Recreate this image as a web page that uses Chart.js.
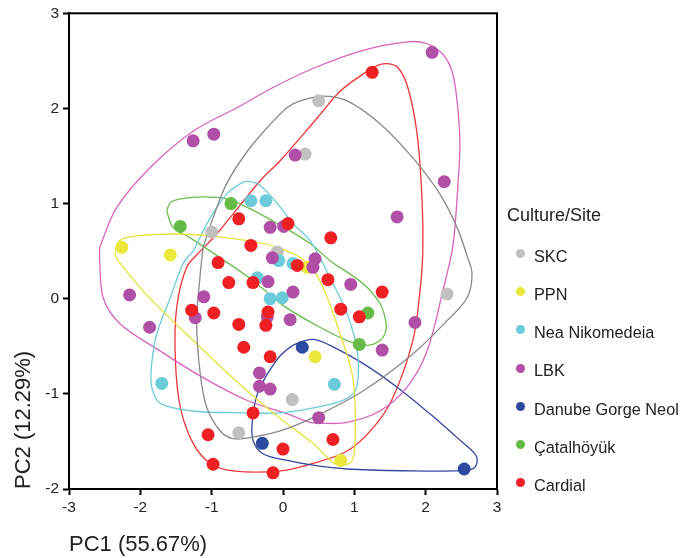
<!DOCTYPE html>
<html>
<head>
<meta charset="utf-8">
<script src="https://cdn.jsdelivr.net/npm/chart.js@4.4.1/dist/chart.umd.min.js"></script>
<style>
  html, body { margin: 0; padding: 0; background: #fff; }
  #wrap { position: relative; width: 692px; height: 558px; }
  #legend { position: absolute; left: 0; top: 0; font-family: 'Liberation Sans', Arial, sans-serif; color: #222; }
  .lg-title { position: absolute; left: 507px; font-size: 18px; line-height: 20px; white-space: nowrap; }
  .lg-dot { position: absolute; left: 516px; width: 9px; height: 9px; border-radius: 50%; }
  .lg-text { position: absolute; left: 534px; font-size: 16.3px; line-height: 20px; white-space: nowrap; }
</style>
</head>
<body>
<div id="wrap">
  <canvas id="pca-chart" width="692" height="558"></canvas>
  <div id="legend"></div>
</div>
<script>
// groups, in the order of the legend
const groupNames = ['SKC', 'PPN', 'Nea Nikomedeia', 'LBK', 'Danube Gorge Neol', 'Çatalhöyük', 'Cardial'];
const pointColors = ['#c0c0c0', '#ebe83b', '#6ccbd9', '#b04fa6', '#2c4a9f', '#66bb46', '#ee2024'];
const hullColors = ['#8a8a8a', '#e6e23a', '#6ccbd9', '#d864bd', '#3548a0', '#69bd4a', '#ee3535'];

const xTicks = [-3, -2, -1, 0, 1, 2, 3];
const yTicks = [-2, -1, 0, 1, 2, 3];

// [PC1, PC2] scores
const skc = [[0.5, 2.08], [0.31, 1.52], [-1.0, 0.70], [-0.08, 0.49], [2.3, 0.05], [0.13, -1.06], [-0.62, -1.41]];
const ppn = [[-2.26, 0.54], [-1.58, 0.46], [0.34, 0.33], [0.45, -0.61], [0.81, -1.70]];
const nea = [[-0.45, 1.03], [-0.24, 1.03], [-0.06, 0.40], [0.14, 0.37], [-0.36, 0.22], [-0.01, 0.01],
             [-0.18, 0.0], [-1.7, -0.89], [0.72, -0.9]];
const lbk = [[-1.26, 1.66], [-0.97, 1.73], [0.17, 1.51], [2.09, 2.59], [2.26, 1.23], [1.6, 0.86],
             [-0.18, 0.75], [0.01, 0.76], [-0.15, 0.43], [0.45, 0.42], [0.42, 0.33], [-0.21, 0.18],
             [0.95, 0.15], [0.14, 0.07], [-2.15, 0.04], [-1.11, 0.02], [-1.23, -0.2], [-0.22, -0.19],
             [0.1, -0.22], [-1.87, -0.3], [1.85, -0.25], [1.39, -0.54], [-0.33, -0.78], [-0.33, -0.92],
             [-0.18, -0.95], [0.5, -1.25]];
const danube = [[0.27, -0.51], [-0.29, -1.52], [2.54, -1.79]];
const catal = [[-0.73, 1.0], [-1.44, 0.76], [1.19, -0.15], [1.07, -0.48]];
const cardial = [[1.25, 2.38], [-0.62, 0.84], [0.07, 0.79], [0.67, 0.64], [-0.45, 0.56], [0.2, 0.35],
                 [-0.91, 0.38], [-0.76, 0.17], [-0.42, 0.17], [0.63, 0.2], [1.39, 0.07], [-1.28, -0.12],
                 [-0.97, -0.15], [-0.21, -0.14], [0.81, -0.11], [1.07, -0.19], [-0.62, -0.27], [-0.24, -0.28],
                 [-0.55, -0.51], [-0.18, -0.61], [-0.42, -1.2], [-1.05, -1.43], [0.0, -1.58], [0.7, -1.48],
                 [-0.98, -1.74], [-0.14, -1.83]];

// outlines around each group
const skcHull = [[-1.12, 0.54], [-0.98, 0.85], [-0.79, 1.21], [-0.50, 1.55], [-0.22, 1.80], [0.06, 2.01],
                 [0.24, 2.08], [0.56, 2.13], [0.90, 2.08], [1.36, 1.84], [1.82, 1.48], [2.20, 1.10],
                 [2.44, 0.75], [2.58, 0.45], [2.65, 0.26], [2.58, 0.01], [2.30, -0.23], [1.82, -0.58],
                 [1.12, -0.97], [0.42, -1.25], [-0.04, -1.39], [-0.46, -1.46], [-0.70, -1.47], [-0.88, -1.39],
                 [-1.07, -1.14], [-1.16, -0.79], [-1.21, -0.26], [-1.16, 0.26]];
const ppnHull = [[-2.36, 0.47], [-2.29, 0.61], [-2.05, 0.66], [-1.49, 0.68], [-1.02, 0.66], [-0.50, 0.61],
                 [-0.08, 0.54], [0.34, 0.38], [0.56, 0.12], [0.80, -0.37], [0.97, -0.79], [1.01, -1.14],
                 [1.01, -1.49], [0.97, -1.70], [0.84, -1.75], [0.70, -1.72], [0.42, -1.52], [-0.04, -1.26],
                 [-0.56, -0.93], [-1.26, -0.44], [-1.96, 0.08], [-2.31, 0.40]];
const neaHull = [[-1.26, 0.50], [-1.02, 0.85], [-0.79, 1.10], [-0.57, 1.22], [-0.46, 1.23], [-0.32, 1.19],
                 [-0.08, 1.00], [0.14, 0.79], [0.38, 0.61], [0.66, 0.22], [0.90, -0.16], [1.04, -0.55],
                 [1.05, -0.86], [0.98, -1.00], [0.76, -1.09], [0.34, -1.16], [-0.04, -1.20], [-0.56, -1.20],
                 [-1.26, -1.18], [-1.72, -1.10], [-1.84, -0.93], [-1.84, -0.68], [-1.77, -0.37], [-1.58, 0.01],
                 [-1.40, 0.37]];
const lbkHull = [[-2.57, 0.54], [-2.33, 0.96], [-1.86, 1.38], [-1.26, 1.76], [-0.64, 2.01], [-0.14, 2.22],
                 [0.42, 2.42], [1.12, 2.61], [1.74, 2.70], [2.02, 2.68], [2.24, 2.57], [2.37, 2.39],
                 [2.44, 2.08], [2.48, 1.63], [2.45, 1.17], [2.41, 0.75], [2.37, 0.50], [2.24, 0.08],
                 [2.02, -0.55], [1.74, -0.93], [1.36, -1.18], [0.90, -1.30], [0.56, -1.31], [0.38, -1.30],
                 [0.06, -1.21], [-0.50, -1.07], [-1.12, -0.83], [-1.72, -0.55], [-2.29, -0.26], [-2.52, 0.01],
                 [-2.57, 0.40]];
const danubeHull = [[-0.22, -0.79], [-0.04, -0.60], [0.14, -0.49], [0.31, -0.44], [0.45, -0.43], [0.66, -0.49],
                    [1.12, -0.68], [1.60, -0.93], [2.06, -1.21], [2.44, -1.46], [2.69, -1.63], [2.72, -1.72],
                    [2.65, -1.79], [2.38, -1.81], [1.82, -1.81], [0.90, -1.79], [0.42, -1.75], [0.06, -1.70],
                    [-0.28, -1.63], [-0.42, -1.49], [-0.43, -1.28], [-0.36, -1.00]];
const catalHull = [[-1.63, 0.92], [-1.58, 1.01], [-1.44, 1.05], [-1.12, 1.07], [-0.79, 1.05], [-0.50, 0.96],
                   [-0.08, 0.79], [0.38, 0.58], [0.66, 0.40], [1.12, 0.16], [1.36, -0.05], [1.44, -0.23],
                   [1.44, -0.34], [1.36, -0.44], [1.18, -0.49], [0.90, -0.44], [0.42, -0.26], [0.0, -0.07],
                   [-0.42, 0.19], [-0.88, 0.43], [-1.30, 0.64], [-1.54, 0.75]];
const cardialHull = [[-1.16, 0.50], [-0.93, 0.68], [-0.32, 1.24], [-0.04, 1.45], [0.48, 1.90], [0.80, 2.18],
                     [1.08, 2.34], [1.32, 2.45], [1.46, 2.47], [1.61, 2.43], [1.75, 2.22], [1.88, 1.73],
                     [1.95, 1.03], [1.96, 0.50], [1.92, 0.08], [1.82, -0.44], [1.54, -1.04], [1.26, -1.36],
                     [0.90, -1.60], [0.42, -1.73], [-0.04, -1.81], [-0.70, -1.81], [-1.02, -1.73], [-1.26, -1.52],
                     [-1.44, -1.14], [-1.51, -0.62], [-1.49, -0.09], [-1.35, 0.33]];

const groupPoints = [skc, ppn, nea, lbk, danube, catal, cardial];
const groupHulls = [skcHull, ppnHull, neaHull, lbkHull, danubeHull, catalHull, cardialHull];

const FONT = "'Liberation Sans', Arial, sans-serif";

function toXY(pairs) {
    return pairs.map(p => ({ x: p[0], y: p[1] }));
}

function buildDatasets() {
    const sets = [];
    groupNames.forEach((name, i) => {
        const hull = groupHulls[i];
        sets.push({
            type: 'scatter',
            label: name + ' outline',
            data: toXY(hull.concat([hull[0]])),
            showLine: true,
            borderColor: hullColors[i],
            borderWidth: 1.3,
            tension: 0.35,
            pointRadius: 0,
            fill: false,
            order: 20
        });
    });
    groupNames.forEach((name, i) => {
        sets.push({
            type: 'scatter',
            label: name,
            data: toXY(groupPoints[i]),
            backgroundColor: pointColors[i],
            borderWidth: 0,
            pointRadius: 6.5,
            // later groups sit on top
            order: groupNames.length - i
        });
    });
    return sets;
}

const framePlugin = {
    id: 'frame',
    afterDraw(chart) {
        const { ctx, chartArea: a } = chart;
        ctx.save();
        ctx.strokeStyle = '#000';
        ctx.lineWidth = 2;
        ctx.strokeRect(a.left, a.top, a.right - a.left, a.bottom - a.top);
        ctx.restore();
    }
};

function initChart() {
    const ctx = document.getElementById('pca-chart').getContext('2d');
    new Chart(ctx, {
        type: 'scatter',
        data: { datasets: buildDatasets() },
        options: {
            responsive: false,
            animation: false,
            layout: { padding: { left: 0, top: 12, right: 195, bottom: 0 } },
            plugins: { legend: { display: false }, tooltip: { enabled: false } },
            scales: {
                x: {
                    type: 'linear',
                    min: -3, max: 3,
                    afterBuildTicks: s => { s.ticks = xTicks.map(v => ({ value: v })); },
                    afterFit: s => { s.height = 69; },
                    grid: { drawOnChartArea: false, drawTicks: true, tickLength: 6, tickWidth: 2, tickColor: '#000' },
                    border: { display: true, color: '#000', width: 2 },
                    ticks: { padding: 3, color: '#222', font: { family: FONT, size: 15.5 } },
                    title: { display: true, text: 'PC1 (55.67%)', align: 'start', color: '#222',
                             padding: { top: 0, bottom: 0 }, font: { family: FONT, size: 22 } }
                },
                y: {
                    type: 'linear',
                    min: -2, max: 3,
                    afterBuildTicks: s => { s.ticks = yTicks.map(v => ({ value: v })); },
                    afterFit: s => { s.width = 69; },
                    grid: { drawOnChartArea: false, drawTicks: true, tickLength: 6, tickWidth: 2, tickColor: '#000' },
                    border: { display: true, color: '#000', width: 2 },
                    ticks: { padding: 4, color: '#222', font: { family: FONT, size: 15.5 } },
                    title: { display: true, text: 'PC2 (12.29%)', align: 'start', color: '#222',
                             padding: { top: 11, bottom: 0 }, font: { family: FONT, size: 22 } }
                }
            }
        },
        plugins: [framePlugin]
    });
}

function buildLegend() {
    const box = document.getElementById('legend');
    const title = document.createElement('div');
    title.className = 'lg-title';
    title.style.top = '205px';
    title.textContent = 'Culture/Site';
    box.appendChild(title);
    groupNames.forEach((name, i) => {
        const rowY = 253.3 + i * 38.25;
        const dot = document.createElement('div');
        dot.className = 'lg-dot';
        dot.style.top = (rowY - 4.5) + 'px';
        dot.style.background = pointColors[i];
        box.appendChild(dot);
        const txt = document.createElement('div');
        txt.className = 'lg-text';
        txt.style.top = (rowY + 2.4 - 10) + 'px';
        txt.textContent = name;
        box.appendChild(txt);
    });
}

document.addEventListener('DOMContentLoaded', () => {
    initChart();
    buildLegend();
});
</script>
</body>
</html>
